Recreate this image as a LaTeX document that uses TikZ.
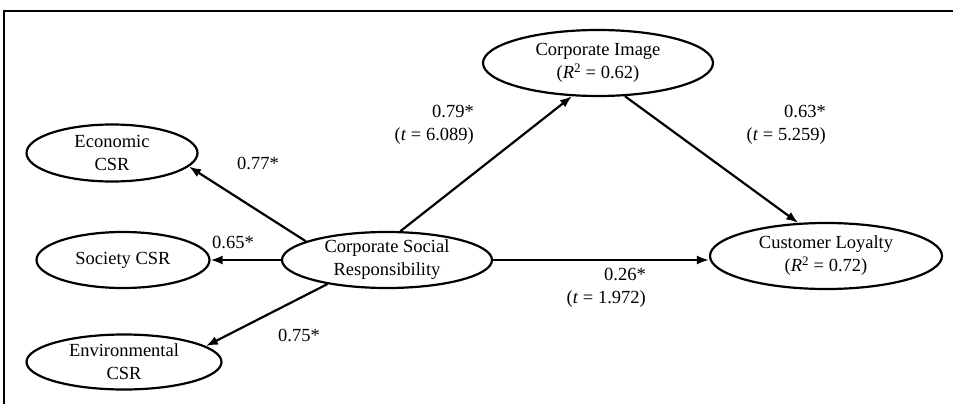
\documentclass[tikz,border=0pt]{standalone}
\usepackage{fontspec}
\setmainfont{Liberation Serif}
\usetikzlibrary{shapes.geometric,arrows.meta}

\begin{document}
\begin{tikzpicture}[x=1pt, y=-1pt, font=\fontsize{18.5}{23}\selectfont,
      construct/.style={draw=black, ellipse, line width=2.2pt, align=center,
         inner xsep=-15pt, inner ysep=-12pt},
      coef/.style={align=right, inner sep=0pt},
      >={Latex[length=12pt,width=9pt]}]
      \useasboundingbox (0,0) rectangle (953,404);
      \draw[line width=2.2pt] (4,404) -- (4,11) -- (953,11);

      \node[construct, name=img, minimum width=230pt, minimum height=66pt] at (598,63)
         {Corporate Image\\(\textit{R}\textsuperscript{2} = 0.62)};
      \node[construct, name=eco, minimum width=171pt, minimum height=57pt] at (112,153)
         {Economic\\CSR};
      \node[construct, name=soc, minimum width=173pt, minimum height=56pt] at (123,260)
         {Society CSR};
      \node[construct, name=env, minimum width=195pt, minimum height=55pt] at (124,362)
         {Environmental\\CSR};
      \node[construct, name=csr, minimum width=210pt, minimum height=56pt] at (387,260)
         {Corporate Social\\Responsibility};
      \node[construct, name=loy, minimum width=232pt, minimum height=66pt] at (826,256)
         {Customer Loyalty\\(\textit{R}\textsuperscript{2} = 0.72)};

      % loadings
      \node[coef, name=l1] at (258,163) {0.77*};
      \node[coef, name=l2] at (233,242) {0.65*};
      \node[coef, name=l3] at (299,335) {0.75*};
      % paths
      \node[coef, name=p1, anchor=east] at (474,125) {0.79*\\(\textit{t} = 6.089)};
      \node[coef, name=p2, anchor=east] at (826,125) {0.63*\\(\textit{t} = 5.259)};
      \node[coef, name=p3, anchor=east] at (646,288) {0.26*\\(\textit{t} = 1.972)};

      \path[->, line width=2.2pt]
         (csr.167) edge (eco.350)
         (csr.west) edge (soc.east)
         (csr.202) edge (env.11)
         (csr.65) edge (img.232)
         (img.309) edge (loy.130)
         (csr.east) edge (loy.west |- csr.east);
   \end{tikzpicture}
\end{document}
